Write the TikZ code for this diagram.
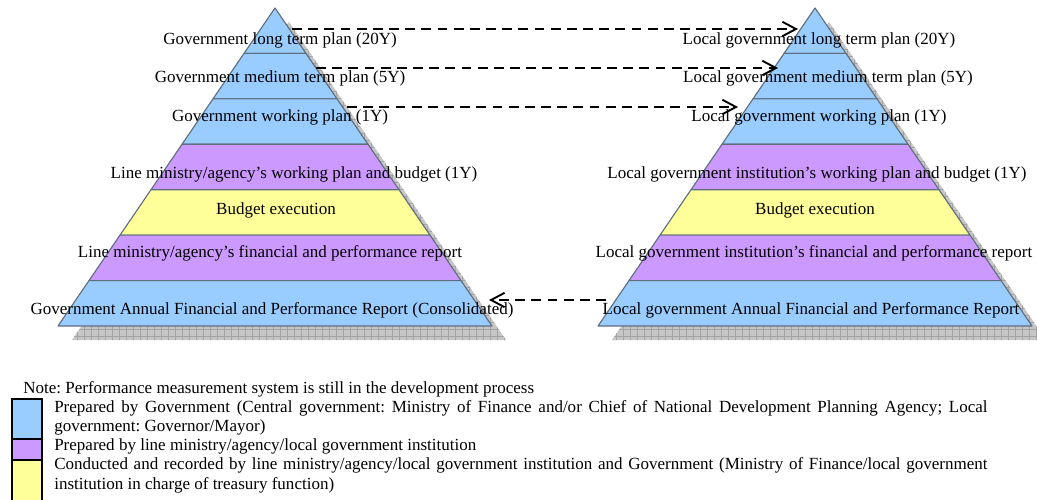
\documentclass[tikz,border=0pt]{standalone}
\usepackage{fontspec}
\setmainfont{Liberation Serif}
\usepackage{xcolor}
\usetikzlibrary{arrows.meta}
\frenchspacing

\definecolor{govblue}{HTML}{99CCFF}
\definecolor{linepurple}{HTML}{CC99FF}
\definecolor{execyellow}{HTML}{FFFF99}
\definecolor{bandedge}{HTML}{5F6E7D}

\tikzset{
	band/.style={draw=bandedge,line width=0.8pt,line join=round},
	lvl/.style={inner sep=0pt},
	flow/.style={-{Straight Barb[length=0.34cm,width=0.36cm]},line width=1.35pt,dash pattern=on 7pt off 4.5pt},
	keybox/.style={draw=black,line width=1.4pt},
	keytext/.style={anchor=north west,inner sep=0pt,text width=23.325cm,align=justify}
}

\begin{document}
\begin{tikzpicture}[x=0.025cm,y=-0.025cm,font=\fontsize{12.1}{13.8}\selectfont]
			
			\useasboundingbox (0,0) rectangle (1037,499);
			
			% Two pyramids: grid shadow, then seven bands from the apex down
			\foreach \cx in {275,815}{
				\begin{scope}
					\clip (\cx+14,22) -- (\cx+231,340) -- (\cx-203,340) -- cycle;
					\fill[gray!45] (\cx-210,20) rectangle (\cx+240,342);
					\draw[gray!72,line width=0.4pt,step=0.175cm] (\cx-210,20) grid (\cx+240,342);
				\end{scope}
				\foreach \k/\col in {1/govblue,2/govblue,3/govblue,4/linepurple,5/execyellow,6/linepurple,7/govblue}{
					\pgfmathsetmacro{\ta}{8+318*(\k-1)/7}
					\pgfmathsetmacro{\tb}{8+318*\k/7}
					\pgfmathsetmacro{\wa}{217*(\k-1)/7}
					\pgfmathsetmacro{\wb}{217*\k/7}
					\filldraw[band,fill=\col] (\cx-\wa,\ta) -- (\cx+\wa,\ta) -- (\cx+\wb,\tb) -- (\cx-\wb,\tb) -- cycle;
				}
			}
			
			% Central government levels
			\node[lvl] (gl1) at (280,40) {Government long term plan (20Y)};
			\node[lvl] (gl2) at (280,78) {Government medium term plan (5Y)};
			\node[lvl] (gl3) at (280,117) {Government working plan (1Y)};
			\node[lvl] (gl4) at (294,174) {Line ministry/agency's working plan and budget (1Y)};
			\node[lvl] (gl5) at (276,210) {Budget execution};
			\node[lvl] (gl6) at (270,253) {Line ministry/agency's financial and performance report};
			\node[lvl] (gl7) at (272,310) {Government Annual Financial and Performance Report (Consolidated)};
			
			% Local government levels
			\node[lvl] (rl1) at (819,40) {Local government long term plan (20Y)};
			\node[lvl] (rl2) at (828,78) {Local government medium term plan (5Y)};
			\node[lvl] (rl3) at (819,117) {Local government working plan (1Y)};
			\node[lvl] (rl4) at (817,174) {Local government institution's working plan and budget (1Y)};
			\node[lvl] (rl5) at (815,210) {Budget execution};
			\node[lvl] (rl6) at (814,253) {Local government institution's financial and performance report};
			\node[lvl] (rl7) at (811,310) {Local government Annual Financial and Performance Report};
			
			% Arrow ends on the pyramid sides
			\coordinate (gs1) at (292,29);
			\coordinate (gs2) at (316,68);
			\coordinate (gs3) at (347,107);
			\coordinate (gs7) at (489,300);
			\coordinate (rs1) at (798,29);
			\coordinate (rs2) at (778,68);
			\coordinate (rs3) at (738,107);
			\coordinate (rs7) at (606,300);
			
			% Plans handed down, report handed up
			\draw[flow] (gs1) -- (rs1);
			\draw[flow] (gs2) -- (rs2);
			\draw[flow] (gs3) -- (rs3);
			\draw[flow] (rs7) -- (gs7);
			
			% Legend
			\node[anchor=base west,inner sep=0pt] (note) at (23,393) {Note: Performance measurement system is still in the development process};
			
			\draw[keybox,fill=govblue] (12,399) rectangle (42,439);
			\draw[keybox,fill=linepurple] (12,439) rectangle (42,460);
			\draw[keybox,fill=execyellow] (12,460) rectangle (42,502);
			
			\node[keytext] (keygov) at (54,400) {Prepared by Government (Central government: Ministry of Finance and/or Chief of National Development Planning Agency; Local\linebreak government: Governor/Mayor)};
			\node[keytext] (keyline) at (54,438.5) {Prepared by line ministry/agency/local government institution};
			\node[keytext] (keyexec) at (54,457.5) {Conducted and recorded by line ministry/agency/local government institution and Government (Ministry of Finance/local government\linebreak institution in charge of treasury function)};
			
		\end{tikzpicture}
\end{document}
